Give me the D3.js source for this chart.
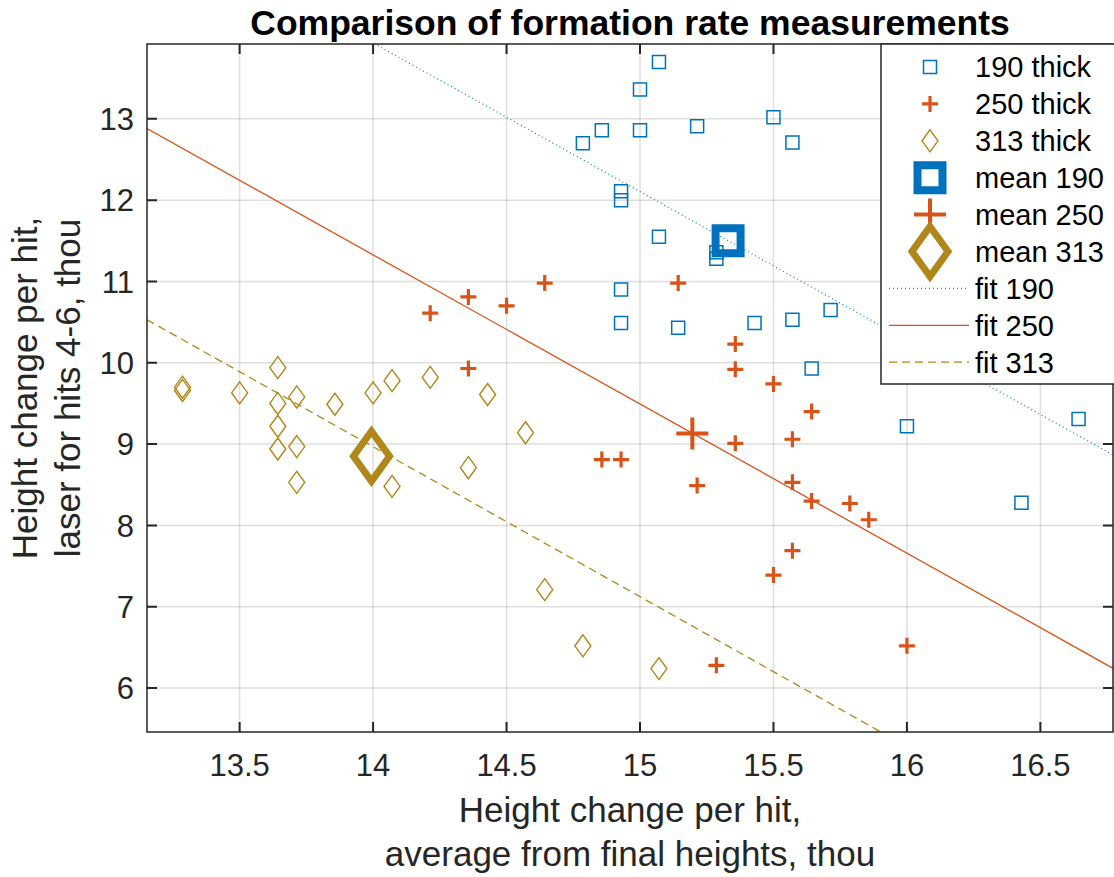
<!DOCTYPE html>
<html>
<head>
<meta charset="utf-8">
<script src="https://cdn.jsdelivr.net/npm/d3@7"></script>
<style>
  body { margin: 0; background: #fff; }
  svg { display: block; font-family: "Liberation Sans", Arial, sans-serif; }
</style>
</head>
<body>
<div id="graph"></div>
<script>
const x190 = [15.071, 15.0, 14.857, 14.786, 15.0, 15.214, 15.5, 15.571, 14.929, 14.929, 15.071, 15.286, 15.286, 14.929, 14.929, 15.143, 15.429, 15.571, 15.714, 15.643, 16.0, 16.429, 16.643];
const y190 = [13.70, 13.36, 12.86, 12.70, 12.86, 12.91, 13.02, 12.71, 12.11, 12.0, 11.55, 11.36, 11.28, 10.90, 10.49, 10.43, 10.49, 10.53, 10.65, 9.93, 9.22, 8.28, 9.31];

const x250 = [14.214, 14.357, 14.5, 14.643, 15.143, 14.357, 15.357, 15.357, 15.5, 15.643, 15.357, 15.571, 14.857, 14.929, 15.214, 15.571, 15.643, 15.786, 15.857, 15.571, 15.5, 15.286, 16.0];
const y250 = [10.61, 10.81, 10.70, 10.98, 10.98, 9.93, 10.23, 9.92, 9.74, 9.40, 9.01, 9.06, 8.81, 8.81, 8.49, 8.53, 8.30, 8.27, 8.07, 7.69, 7.39, 6.28, 6.52];

const x313 = [13.286, 13.286, 13.5, 13.643, 13.643, 13.714, 13.643, 13.643, 13.714, 13.714, 13.857, 14.0, 14.071, 14.214, 14.429, 14.357, 14.071, 14.571, 14.643, 14.786, 15.071];
const y313 = [9.70, 9.66, 9.63, 9.94, 9.50, 9.58, 9.22, 8.94, 8.97, 8.53, 9.49, 9.63, 9.78, 9.82, 9.61, 8.71, 8.48, 9.14, 7.21, 6.52, 6.24];

const groups = ["190", "250", "313"];
const meanX = [15.33, 15.196, 13.994];
const meanY = [11.50, 9.13, 8.85];
const fitSlope = [-1.827, -1.834, -1.844];
const fitIntercept = [39.51, 37.003, 34.784];

const xTicks = [13.5, 14, 14.5, 15, 15.5, 16, 16.5];
const yTicks = [6, 7, 8, 9, 10, 11, 12, 13];
const xDomain = [13.153, 16.772];
const yDomain = [5.46, 13.92];

const colors = ["#0072BD", "#D95319", "#B1871B"];
const ink = "#262626";

const width = 1114, height = 877;
const plot = {left: 147, right: 1113, top: 44, bottom: 732};

const x = d3.scaleLinear().domain(xDomain).range([plot.left, plot.right]);
const y = d3.scaleLinear().domain(yDomain).range([plot.bottom, plot.top]);

const svg = d3.select("#graph").append("svg")
    .attr("width", width)
    .attr("height", height);

svg.append("defs").append("clipPath").attr("id", "clip")
  .append("rect")
    .attr("x", plot.left).attr("y", plot.top)
    .attr("width", plot.right - plot.left).attr("height", plot.bottom - plot.top);

// grid
svg.append("g")
    .attr("stroke", ink).attr("stroke-opacity", 0.15).attr("stroke-width", 1.5)
    .call(g => g.selectAll(".gx").data(xTicks).join("line")
      .attr("x1", d => x(d)).attr("x2", d => x(d))
      .attr("y1", plot.top).attr("y2", plot.bottom))
    .call(g => g.selectAll(".gy").data(yTicks).join("line").attr("class", "gy")
      .attr("x1", plot.left).attr("x2", plot.right)
      .attr("y1", d => y(d)).attr("y2", d => y(d)));

// markers
const square = s => `M${-s / 2},${-s / 2}H${s / 2}V${s / 2}H${-s / 2}Z`;
const plus = s => `M${-s / 2},0H${s / 2}M0,${-s / 2}V${s / 2}`;
const diamond = (w, h) => `M0,${-h / 2}L${w / 2},0L0,${h / 2}L${-w / 2},0Z`;

const small = [
  {path: square(13), sw: 1.5},
  {path: plus(16), sw: 3.2},
  {path: diamond(16, 22), sw: 1.4}
];
const big = [
  {path: square(25), sw: 8},
  {path: plus(32), sw: 4},
  {path: diamond(36, 50), sw: 7}
];

const xs = [x190, x250, x313], ys = [y190, y250, y313];

const marks = svg.append("g").attr("clip-path", "url(#clip)");

groups.forEach((grp, i) => {
  marks.append("g")
      .attr("fill", "none").attr("stroke", colors[i])
      .attr("stroke-width", small[i].sw)
    .selectAll("path")
    .data(d3.range(xs[i].length))
    .join("path")
      .attr("transform", k => `translate(${x(xs[i][k])},${y(ys[i][k])})`)
      .attr("d", small[i].path);
});

groups.forEach((grp, i) => {
  marks.append("path")
      .attr("fill", "none").attr("stroke", colors[i])
      .attr("stroke-width", big[i].sw)
      .attr("stroke-linejoin", "miter")
      .attr("transform", `translate(${x(meanX[i])},${y(meanY[i])})`)
      .attr("d", big[i].path);
});

const dashes = ["1,3", null, "8,5"];
const line = d3.line().x(d => x(d[0])).y(d => y(d[1]));

groups.forEach((grp, i) => {
  marks.append("path")
      .datum(xDomain.map(v => [v, fitIntercept[i] + fitSlope[i] * v]))
      .attr("fill", "none").attr("stroke", colors[i])
      .attr("stroke-width", i == 0 ? 1.3 : 1.3)
      .attr("stroke-opacity", i == 0 ? 0.9 : 1)
      .attr("stroke-dasharray", dashes[i])
      .attr("d", line);
});

// axes box and ticks
const axes = svg.append("g").attr("stroke", ink);

axes.append("rect")
    .attr("x", plot.left).attr("y", plot.top)
    .attr("width", plot.right - plot.left).attr("height", plot.bottom - plot.top)
    .attr("fill", "none").attr("stroke-width", 1.5);

const tl = 10;
axes.selectAll(".tx").data(xTicks).join("path")
    .attr("stroke-width", 2)
    .attr("d", d => `M${x(d)},${plot.bottom}v${-tl}M${x(d)},${plot.top}v${tl}`);
axes.selectAll(".ty").data(yTicks).join("path").attr("class", "ty")
    .attr("stroke-width", 2)
    .attr("d", d => `M${plot.left},${y(d)}h${tl}M${plot.right},${y(d)}h${-tl}`);

svg.append("g")
    .attr("font-size", 31).attr("fill", ink).attr("text-anchor", "middle")
  .selectAll("text").data(xTicks).join("text")
    .attr("x", d => x(d)).attr("y", 776)
    .text(d => d);

svg.append("g")
    .attr("font-size", 31).attr("fill", ink).attr("text-anchor", "end")
  .selectAll("text").data(yTicks).join("text")
    .attr("x", 134).attr("y", d => y(d)).attr("dy", "0.36em")
    .text(d => d);

// labels
const xLabel = ["Height change per hit,", "average from final heights, thou"];
const yLabel = ["Height change per hit,", "laser for hits 4-6, thou"];

svg.append("g")
    .attr("font-size", 35).attr("fill", ink).attr("text-anchor", "middle")
  .selectAll("text").data(xLabel).join("text")
    .attr("x", (plot.left + plot.right) / 2)
    .attr("y", (d, i) => 822 + i * 44)
    .text(d => d);

svg.append("g")
    .attr("font-size", 35).attr("fill", ink).attr("text-anchor", "middle")
  .selectAll("text").data(yLabel).join("text")
    .attr("transform", (d, i) => `translate(${37 + i * 43},${(plot.top + plot.bottom) / 2}) rotate(-90)`)
    .text(d => d);

svg.append("text")
    .attr("x", (plot.left + plot.right) / 2).attr("y", 35)
    .attr("text-anchor", "middle")
    .attr("font-size", 35.5).attr("font-weight", "bold").attr("fill", "#000")
    .text("Comparison of formation rate measurements");

// legend
const legendNames = ["190 thick", "250 thick", "313 thick", "mean 190", "mean 250", "mean 313", "fit 190", "fit 250", "fit 313"];
const legend = svg.append("g");

legend.append("rect")
    .attr("x", 881).attr("y", plot.top)
    .attr("width", 260).attr("height", 384 - plot.top)
    .attr("fill", "#fff").attr("stroke", ink).attr("stroke-width", 1.5);

const rowY = i => 67 + i * 36.9;

legendNames.forEach((name, i) => {
  const c = i % 3;
  if (i < 3) {
    legend.append("path")
        .attr("transform", `translate(930,${rowY(i)})`)
        .attr("d", small[c].path)
        .attr("fill", "none").attr("stroke", colors[c]).attr("stroke-width", small[c].sw);
  } else if (i < 6) {
    legend.append("path")
        .attr("transform", `translate(930,${rowY(i)})`)
        .attr("d", big[c].path)
        .attr("fill", "none").attr("stroke", colors[c]).attr("stroke-width", big[c].sw);
  } else {
    legend.append("line")
        .attr("x1", 889).attr("x2", 969)
        .attr("y1", rowY(i)).attr("y2", rowY(i))
        .attr("stroke", colors[c]).attr("stroke-width", 1.3)
        .attr("stroke-opacity", c == 0 ? 0.9 : 1)
        .attr("stroke-dasharray", dashes[c]);
  }
  legend.append("text")
      .attr("x", 975).attr("y", rowY(i)).attr("dy", "0.36em")
      .attr("font-size", 29).attr("fill", "#000")
      .text(name);
});
</script>
</body>
</html>
